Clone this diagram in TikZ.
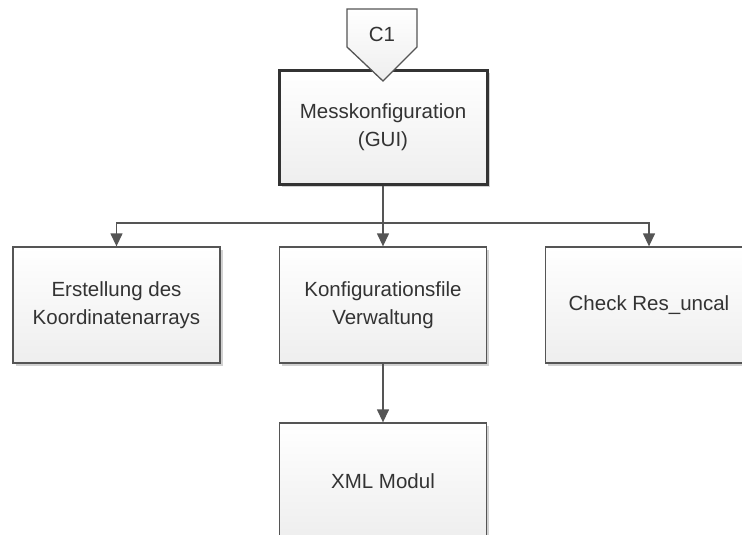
\documentclass[tikz,border=0pt]{standalone}
\usepackage{fontspec}
\setmainfont{Liberation Sans}
\usetikzlibrary{arrows.meta,shadows}
\definecolor{txt}{HTML}{333333}
\definecolor{edge}{HTML}{555555}
\definecolor{fillbot}{HTML}{EEEEEE}
\tikzset{
  box/.style={draw=edge, line width=1.3pt, top color=white, bottom color=fillbot,
    minimum width=207pt, minimum height=116pt, align=center, text=txt,
    font=\fontsize{20.5}{28}\selectfont,
    drop shadow={shadow xshift=2.5pt, shadow yshift=-2.5pt, fill=black!18, opacity=1}},
  mainbox/.style={box, draw=black!80, line width=3pt, minimum width=208pt, minimum height=113pt},
  conn/.style={draw=edge, line width=1.3pt},
  arr/.style={conn, -{Triangle[width=12pt,length=13pt]}},
}
\begin{document}
\begin{tikzpicture}[x=1pt,y=-1pt]
\useasboundingbox (0,0) rectangle (742,535);
\clip (0,0) rectangle (742,535);
\node[mainbox] (main) at (383,127.5) {Messkonfiguration\\(GUI)};
\node[box] (left) at (116.5,305) {Erstellung des\\Koordinatenarrays};
\node[box] (mid) at (383,305) {Konfigurationsfile\\Verwaltung};
\node[box] (right) at (649,305) {Check Res\_uncal};
\node[box] (xml) at (383,481) {XML Modul};
\coordinate (j) at (383,223);
\draw[conn] (main.south) -- (j);
\draw[arr] (j) -| (left.north);
\draw[arr] (j) -| (right.north);
\draw[arr] (j) -- (mid.north);
\draw[arr] (mid.south) -- (xml.north);
\path[draw=edge, line width=1.3pt, top color=white, bottom color=fillbot]
  (347,9) -- (417,9) -- (417,47) -- (383,81) -- (347,47) -- cycle;
\node[text=txt, font=\fontsize{20.5}{28}\selectfont] (c1) at (382,34) {C1};
\end{tikzpicture}
\end{document}
